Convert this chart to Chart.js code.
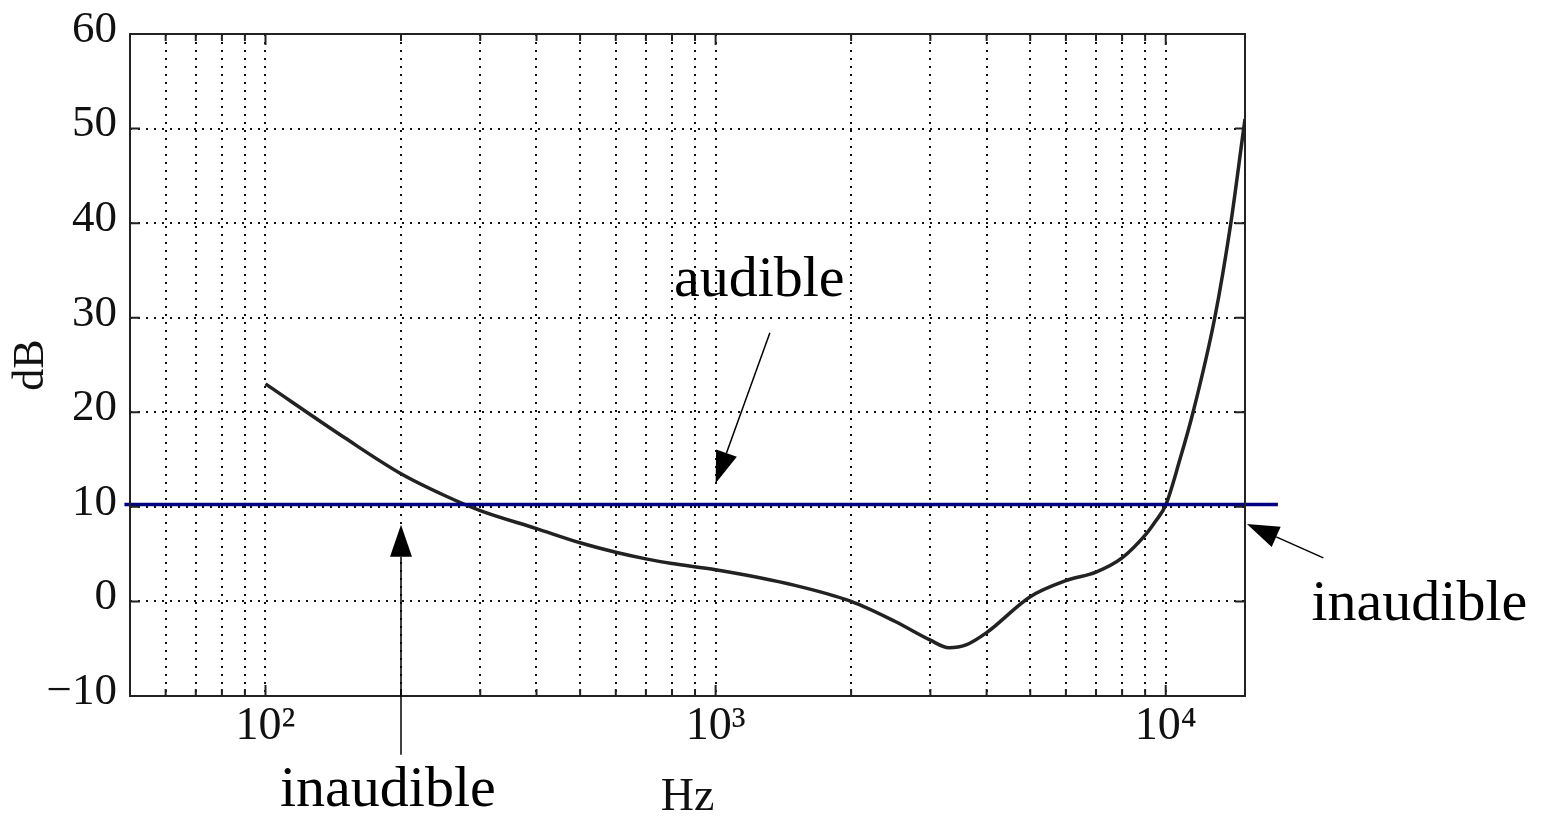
<!DOCTYPE html>
<html>
<head>
<meta charset="utf-8">
<script src="https://cdn.jsdelivr.net/npm/chart.js@4.4.0/dist/chart.umd.min.js"></script>
<style>
  body { margin: 0; background: #fff; }
  #wrap { width: 1548px; height: 816px; }
</style>
</head>
<body>
<div id="wrap"><canvas id="chart"></canvas></div>
<script>
// Curva do limiar de audição (Hz / dB)
const freqHz = [100, 150, 200, 250, 300, 400, 500, 600, 700, 800, 1000, 1500, 2000, 2500, 3000, 3300, 3600, 4000,
                5000, 6000, 7000, 8000, 9000, 9500, 10000, 10750, 11500, 12850, 13950, 14900, 15000];
const thresholdDb = [23, 17.3, 13.5, 11.2, 9.6, 7.7, 6.2, 5.2, 4.5, 4.0, 3.35, 1.7, 0, -2.1, -4.1, -4.9, -4.6, -3.3,
                     0.5, 2.2, 3.1, 4.6, 7.0, 8.5, 10.2, 15, 20, 30, 40, 50, 51];

// linha de referência (10 dB), passa um pouco fora do gráfico
const refHz = [48.6, 17750];
const refDb = [10.25, 10.25];

// posições da grade no eixo log
const gridHz = [60, 70, 80, 90, 100, 200, 300, 400, 500, 600, 700, 800, 900,
                1000, 2000, 3000, 4000, 5000, 6000, 7000, 8000, 9000, 10000];
const decadeHz = [100, 1000, 10000];
const decadeLabels = ['10²', '10³', '10⁴'];
const dbTicks = [-10, 0, 10, 20, 30, 40, 50, 60];

// anotações (em coordenadas do gráfico)
const notes = [
    { text: 'audible', x: 1250, y: 32.3, from: [1320, 28.4], to: [1000, 12.5] },
    { text: 'inaudible', x: 187, y: -21.6, from: [200, -16.2], to: [200, 8.1] },
    { text: 'inaudible', x: 36600, y: -2.0, from: [22400, 4.6], to: [15150, 8.2] }
];

const serif = '"Liberation Serif", "Times New Roman", serif';

function drawArrow(ctx, x1, y1, x2, y2) {
    const ang = Math.atan2(y2 - y1, x2 - x1);
    const len = 32, half = 11;
    const bx = x2 - len * Math.cos(ang), by = y2 - len * Math.sin(ang);
    ctx.beginPath();
    ctx.moveTo(x1, y1);
    ctx.lineTo(bx, by);
    ctx.stroke();
    ctx.beginPath();
    ctx.moveTo(x2, y2);
    ctx.lineTo(bx + half * Math.sin(ang), by - half * Math.cos(ang));
    ctx.lineTo(bx - half * Math.sin(ang), by + half * Math.cos(ang));
    ctx.closePath();
    ctx.fill();
}

const framePlugin = {
    id: 'frame',
    afterDraw(chart) {
        const { ctx, chartArea: a, scales: { x, y } } = chart;
        ctx.save();
        ctx.strokeStyle = '#222';
        ctx.lineWidth = 2;
        ctx.strokeRect(a.left, a.top, a.right - a.left, a.bottom - a.top);

        // marcas para dentro
        ctx.beginPath();
        dbTicks.forEach(v => {
            const py = y.getPixelForValue(v);
            ctx.moveTo(a.left, py); ctx.lineTo(a.left + 10, py);
            ctx.moveTo(a.right, py); ctx.lineTo(a.right - 10, py);
        });
        gridHz.forEach(v => {
            const px = x.getPixelForValue(v);
            const l = decadeHz.includes(v) ? 11 : 7;
            ctx.moveTo(px, a.bottom); ctx.lineTo(px, a.bottom - l);
            ctx.moveTo(px, a.top); ctx.lineTo(px, a.top + l);
        });
        ctx.stroke();

        // textos e setas
        ctx.fillStyle = '#000';
        ctx.strokeStyle = '#000';
        ctx.lineWidth = 1.5;
        ctx.font = '58px ' + serif;
        ctx.textAlign = 'center';
        ctx.textBaseline = 'alphabetic';
        notes.forEach(n => {
            ctx.fillText(n.text, x.getPixelForValue(n.x), y.getPixelForValue(n.y));
            drawArrow(ctx,
                x.getPixelForValue(n.from[0]), y.getPixelForValue(n.from[1]),
                x.getPixelForValue(n.to[0]), y.getPixelForValue(n.to[1]));
        });
        ctx.restore();
    }
};

const ctx = document.getElementById('chart').getContext('2d');
new Chart(ctx, {
    type: 'line',
    data: {
        datasets: [
            {
                label: 'limiar',
                data: freqHz.map((f, i) => ({ x: f, y: thresholdDb[i] })),
                borderColor: '#222',
                borderWidth: 3.5,
                pointRadius: 0,
                cubicInterpolationMode: 'monotone',
                order: 2
            },
            {
                label: '10 dB',
                data: refHz.map((f, i) => ({ x: f, y: refDb[i] })),
                borderColor: '#000080',
                borderWidth: 3.5,
                pointRadius: 0,
                clip: false,
                order: 1
            }
        ]
    },
    options: {
        responsive: true,
        maintainAspectRatio: false,
        animation: false,
        layout: { padding: { left: 0, right: 303, top: 34, bottom: 0 } },
        plugins: { legend: { display: false }, tooltip: { enabled: false } },
        scales: {
            x: {
                type: 'logarithmic',
                min: 50,
                max: 15000,
                afterBuildTicks: s => { s.ticks = gridHz.map(v => ({ value: v })); },
                afterFit: s => { s.height = 120; s.paddingLeft = 0; s.paddingRight = 0; },
                grid: { color: '#111', lineWidth: 2, drawTicks: false },
                border: { display: false, dash: [2, 6] },
                ticks: {
                    autoSkip: false,
                    maxRotation: 0,
                    padding: 3,
                    color: '#111',
                    font: { family: serif, size: 46 },
                    callback: v => {
                        const k = decadeHz.indexOf(v);
                        return k >= 0 ? decadeLabels[k] : '';
                    }
                },
                title: {
                    display: true,
                    text: 'Hz',
                    color: '#111',
                    font: { family: serif, size: 46, lineHeight: 0.8 },
                    padding: { top: 0, bottom: 0 }
                }
            },
            y: {
                min: -10,
                max: 60,
                afterBuildTicks: s => { s.ticks = dbTicks.map(v => ({ value: v })); },
                afterFit: s => { s.width = 130; s.paddingTop = 0; s.paddingBottom = 0; },
                grid: { color: '#111', lineWidth: 2, drawTicks: false },
                border: { display: false, dash: [2, 6] },
                ticks: {
                    padding: 13,
                    labelOffset: -4,
                    color: '#111',
                    font: { family: serif, size: 45 },
                    callback: v => (v < 0 ? '\u2212' + Math.abs(v) : String(v))
                },
                title: {
                    display: true,
                    text: 'dB',
                    color: '#111',
                    font: { family: serif, size: 44, lineHeight: 1 },
                    padding: { top: 9, bottom: 0 }
                }
            }
        }
    },
    plugins: [framePlugin]
});
</script>
</body>
</html>
